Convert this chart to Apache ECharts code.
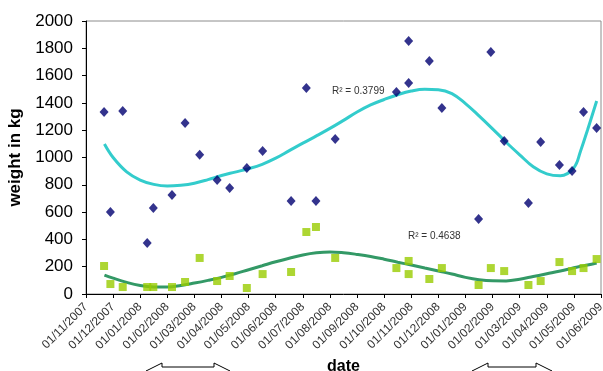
<!DOCTYPE html>
<html>
<head>
<meta charset="utf-8">
<script src="https://cdn.jsdelivr.net/npm/echarts@6/dist/echarts.min.js"></script>
<style>
  html, body { margin: 0; padding: 0; background: #fff; }
  #chart { width: 603px; height: 371px; }
</style>
</head>
<body>
<div id="chart"></div>
<script>
// Month tick labels along the date axis (one tick per month, starting 01/11/2007)
const tickLabels = [
  '01/11/2007', '01/12/2007', '01/01/2008', '01/02/2008', '01/03/2008',
  '01/04/2008', '01/05/2008', '01/06/2008', '01/07/2008', '01/08/2008',
  '01/09/2008', '01/10/2008', '01/11/2008', '01/12/2008', '01/01/2009',
  '01/02/2009', '01/03/2009', '01/04/2009', '01/05/2009', '01/06/2009'
];

// Weighing dates
const dates = [
  '2007-11-21', '2007-11-28', '2007-12-12', '2008-01-09', '2008-01-16',
  '2008-02-06', '2008-02-20', '2008-03-07', '2008-03-27', '2008-04-10',
  '2008-04-29', '2008-05-17', '2008-06-18', '2008-07-05', '2008-07-16',
  '2008-08-07', '2008-10-15', '2008-10-29', '2008-10-29', '2008-11-21',
  '2008-12-05', '2009-01-16', '2009-01-30', '2009-02-13', '2009-03-11',
  '2009-03-25', '2009-04-15', '2009-04-29', '2009-05-12', '2009-05-27'
];

// Weight in kg, upper series (navy diamonds)
const weightA = [
  1333, 600, 1340, 374, 630,
  725, 1253, 1020, 835, 776,
  923, 1048, 681, 1509, 681,
  1135, 1480, 1546, 1853, 1707,
  1363, 549, 1773, 1121, 667,
  1113, 945, 901, 1333, 1216
];

// Weight in kg, lower series (green squares)
const weightB = [
  205, 73, 51, 51, 51,
  51, 88, 264, 95, 132,
  44, 146, 161, 454, 491,
  264, 190, 242, 146, 110,
  190, 66, 190, 168, 66,
  95, 234, 168, 190, 256
];

// Polynomial trend lines, sampled in months since 01/11/2007
const trendMonths = [
  0.68, 1, 1.5, 2, 2.5, 3, 3.5, 4, 4.5, 5, 5.5, 6, 6.5, 7, 7.5, 8, 8.5, 9, 9.5,
  10, 10.5, 11, 11.5, 12, 12.5, 13, 13.5, 14, 14.5, 15, 15.5, 16, 16.5, 17,
  17.5, 18, 18.25, 18.5, 18.84
];
const trendA = [
  1099, 1000, 895, 835, 803, 791, 797, 812, 838, 868, 893, 918, 950, 995, 1050,
  1105, 1158, 1213, 1272, 1333, 1385, 1425, 1460, 1487, 1500, 1497, 1468, 1395,
  1305, 1210, 1112, 1020, 932, 880, 866, 925, 1050, 1200, 1414
];
const trendB = [
  139, 116, 85, 62, 52, 51, 62, 80, 100, 122, 148, 178, 207, 236, 262,
  286, 302, 308, 302, 290, 275, 255, 233, 212, 190, 168, 146, 122,
  105, 97, 96, 108, 128, 148, 168, 192, 203, 212, 227
];

const r2Labels = ['R\u00B2 = 0.3799', 'R\u00B2 = 0.4638'];

// Position of a date on the month axis: whole months since Nov 2007 plus the day fraction
function monthPos(s) {
  const [y, m, d] = s.split('-').map(Number);
  const daysInMonth = new Date(y, m, 0).getDate();
  return (y - 2007) * 12 + (m - 1) - 10 + (d - 1) / daysInMonth;
}

const pointsA = dates.map((d, i) => [monthPos(d), weightA[i]]);
const pointsB = dates.map((d, i) => [monthPos(d), weightB[i]]);
const lineA = trendMonths.map((m, i) => [m, trendA[i]]);
const lineB = trendMonths.map((m, i) => [m, trendB[i]]);

const font = '"Liberation Sans", Arial, sans-serif';

function blockArrow(x0, x1, cy) {
  const head = 16, hh = 8, sh = 4;
  return [
    [x0, cy], [x0 + head, cy - hh], [x0 + head, cy - sh],
    [x1 - head, cy - sh], [x1 - head, cy - hh], [x1, cy],
    [x1 - head, cy + hh], [x1 - head, cy + sh],
    [x0 + head, cy + sh], [x0 + head, cy + hh]
  ];
}

const chart = echarts.init(document.getElementById('chart'), null, { renderer: 'canvas' });
chart.setOption({
  animation: false,
  backgroundColor: '#fff',
  grid: {
    left: 86, right: 2, top: 21, bottom: 77,
    outerBoundsMode: 'none', containLabel: false,
    show: true, borderColor: '#8c8c8c', borderWidth: 1
  },
  xAxis: {
    type: 'value', min: 0, max: 19, interval: 1,
    name: 'date', nameLocation: 'middle', nameGap: 65,
    nameTextStyle: { fontFamily: font, fontSize: 16, fontWeight: 'bold', color: '#000' },
    axisLine: { show: true, lineStyle: { color: '#000', width: 1 } },
    axisTick: { show: true, length: 4, lineStyle: { color: '#000' } },
    splitLine: { show: false },
    axisLabel: {
      rotate: 45, margin: 11, fontFamily: font, fontSize: 12, color: '#333',
      formatter: v => tickLabels[Math.round(v)] || ''
    }
  },
  yAxis: {
    type: 'value', min: 0, max: 2000, interval: 200,
    name: 'weight in kg', nameLocation: 'middle', nameGap: 58,
    nameTextStyle: { fontFamily: font, fontSize: 17, fontWeight: 'bold', color: '#000' },
    axisLine: { show: true, lineStyle: { color: '#000', width: 1 } },
    axisTick: { show: true, length: 4, lineStyle: { color: '#000' } },
    splitLine: { show: false },
    axisLabel: {
      margin: 13, fontFamily: font, fontSize: 17, color: '#000',
      formatter: v => String(v)
    }
  },
  series: [
    {
      type: 'line', data: lineA, smooth: 0.4, showSymbol: false, z: 2,
      lineStyle: { color: '#33CCCC', width: 3 }
    },
    {
      type: 'line', data: lineB, smooth: 0.4, showSymbol: false, z: 2,
      lineStyle: { color: '#339966', width: 3 }
    },
    {
      type: 'scatter', data: pointsA, symbol: 'diamond', symbolSize: [9, 10], z: 3,
      itemStyle: { color: '#000070' }
    },
    {
      type: 'scatter', data: pointsB, symbol: 'rect', symbolSize: 8, z: 3,
      itemStyle: { color: '#99CC00' }
    }
  ],
  graphic: [
    {
      type: 'text', left: 332, top: 86,
      style: { text: r2Labels[0], font: '10px ' + font, fill: '#333' }
    },
    {
      type: 'text', left: 408, top: 231,
      style: { text: r2Labels[1], font: '10px ' + font, fill: '#333' }
    },
    {
      type: 'polygon', shape: { points: blockArrow(146, 230, 371) },
      style: { fill: '#fff', stroke: '#000', lineWidth: 1 }
    },
    {
      type: 'polygon', shape: { points: blockArrow(472, 552, 371) },
      style: { fill: '#fff', stroke: '#000', lineWidth: 1 }
    }
  ]
});
</script>
</body>
</html>
